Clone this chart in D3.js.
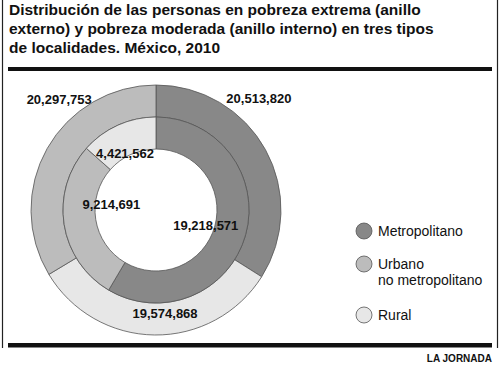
<!DOCTYPE html>
<html><head><meta charset="utf-8">
<script src="https://cdn.jsdelivr.net/npm/d3@7"></script>
<style>body{margin:0;background:#fff}svg{display:block}text{font-family:"Liberation Sans",Arial,Helvetica,sans-serif}</style>
</head><body>
<svg id="c" width="500" height="366"></svg>
<script>
const titleLines = ["Distribución de las personas en pobreza extrema (anillo","externo) y pobreza moderada (anillo interno) en tres tipos","de localidades. México, 2010"];
const categories = ["Metropolitano","Urbano no metropolitano","Rural"];
const legendLines = [["Metropolitano"],["Urbano","no metropolitano"],["Rural"]];
// outer ring: pobreza extrema (order clockwise from 12 o'clock)
const outerCats = ["Metropolitano","Rural","Urbano no metropolitano"];
const outerValues = [20513820, 19574868, 20297753];
// inner ring: pobreza moderada
const innerCats = ["Metropolitano","Urbano no metropolitano","Rural"];
const innerValues = [19218571, 9214691, 4421562];
const source = "LA JORNADA";

const colors = {"Metropolitano":"#888888","Urbano no metropolitano":"#bcbcbc","Rural":"#e7e7e7"};
const svg = d3.select("#c");
const cx = 156, cy = 210;
const fmt = d3.format(",");

// frame
svg.append("line").attr("x1",2.5).attr("x2",2.5).attr("y1",0).attr("y2",348).attr("stroke","#222").attr("stroke-width",1.2);
svg.append("line").attr("x1",497.5).attr("x2",497.5).attr("y1",0).attr("y2",348).attr("stroke","#222").attr("stroke-width",1.2);
svg.append("rect").attr("x",8).attr("y",67).attr("width",484).attr("height",4).attr("fill","#111");
svg.append("rect").attr("x",8).attr("y",343).attr("width",484).attr("height",4.5).attr("fill","#111");

// title
svg.append("text").attr("font-weight","bold").attr("font-size",15.5).attr("fill","#111")
  .selectAll("tspan").data(titleLines).join("tspan")
  .attr("x",9).attr("y",(d,i)=>15+i*19).text(d=>d);

const pie = d3.pie().sort(null).value(d=>d.v);
function ring(cats, vals, r0, r1){
  const data = pie(cats.map((c,i)=>({c, v:vals[i]})));
  const arc = d3.arc().innerRadius(r0).outerRadius(r1);
  const g = svg.append("g").attr("transform",`translate(${cx},${cy})`);
  g.selectAll("path").data(data).join("path").attr("d",arc)
    .attr("fill",d=>colors[d.data.c]).attr("stroke","#555").attr("stroke-width",0.8);
  return data;
}
const outer = ring(outerCats, outerValues, 93, 125);
const inner = ring(innerCats, innerValues, 61, 93);

// labels: polar placement (deg clockwise from top, radius)
const outerLabelPos = [[42.6,152],[175,104],[318.8,147]];
const innerLabelPos = [[106.7,52],[277.6,45],[331.5,65]];
function labels(data, pos){
  svg.append("g").selectAll("text").data(data).join("text")
    .attr("x",(d,i)=>cx+pos[i][1]*Math.sin(pos[i][0]*Math.PI/180))
    .attr("y",(d,i)=>cy-pos[i][1]*Math.cos(pos[i][0]*Math.PI/180))
    .attr("dy","0.36em").attr("text-anchor","middle")
    .attr("font-weight","bold").attr("font-size",13).attr("fill","#111")
    .text(d=>fmt(d.data.v));
}
labels(outer, outerLabelPos);
labels(inner, innerLabelPos);

// legend
const legY = [231, 264, 315];
const lg = svg.append("g");
categories.forEach((c,i)=>{
  lg.append("circle").attr("cx",364).attr("cy",legY[i]).attr("r",8)
    .attr("fill",colors[c]).attr("stroke","#555").attr("stroke-width",0.8);
  lg.append("text").attr("font-size",14).attr("fill","#111")
    .selectAll("tspan").data(legendLines[i]).join("tspan")
    .attr("x",378).attr("y",(d,j)=>legY[i]+5+j*16).text(d=>d);
});

svg.append("text").attr("x",492).attr("y",362).attr("text-anchor","end")
  .attr("font-weight","bold").attr("font-size",10).attr("fill","#111").text(source);
</script>
</body></html>
